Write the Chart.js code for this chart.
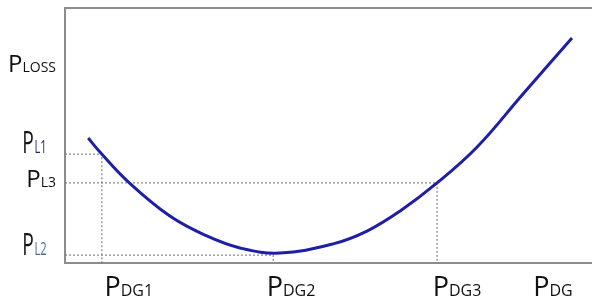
<!DOCTYPE html>
<html>
<head>
<meta charset="utf-8">
<script src="https://cdn.jsdelivr.net/npm/chart.js@4/dist/chart.umd.min.js"></script>
<style>
html,body{margin:0;padding:0;background:#fff;}
canvas{display:block;}
</style>
</head>
<body>
<canvas id="c" width="592" height="303"></canvas>
<script>
// Loss curve (arbitrary units)
const curveX = [4.4, 6.8, 12.0, 19.9, 26.9, 33.2, 40.8, 50.9, 57.3, 63.6, 70.6, 78.2, 86.9, 96.2];
const curveY = [49.0, 43.1, 31.8, 18.4, 10.6, 5.9, 3.9, 7.5, 12.5, 20.4, 31.4, 45.5, 66.3, 88.2];

// Dotted guide lines: level and the x where it meets the curve
const guideLevels = [42.7, 31.4, 3.1];
const guideX = [7.0, 70.6, 39.5];

// Axis labels (main letter + subscript) and where they sit
const yLabelMain = ['P', 'P', 'P', 'P'];
const yLabelSub = ['LOSS', 'L1', 'L3', 'L2'];
const yLabelPos = [74.9, 43.1, 29.8, 3.1];
const yLabelCondensed = [false, true, false, true];
const xLabelMain = ['P', 'P', 'P', 'P'];
const xLabelSub = ['DG1', 'DG2', 'DG3', 'DG'];
const xLabelPos = [12.1, 42.9, 74.4, 92.6];

const curve = curveX.map((x, i) => ({x, y: curveY[i]}));
const guides = guideLevels.map((lv, i) => ({
  data: [{x: 0, y: lv}, {x: guideX[i], y: lv}, {x: guideX[i], y: 0}],
  borderColor: '#6e6e6e',
  borderWidth: 1,
  borderDash: [2, 2],
  pointRadius: 0,
  tension: 0,
  clip: false
}));

const framePlugin = {
  id: 'frame',
  beforeDatasetsDraw(chart) {
    const {ctx, chartArea: a} = chart;
    ctx.save();
    ctx.strokeStyle = '#8c8c8c';
    ctx.lineWidth = 2;
    ctx.beginPath();
    ctx.moveTo(a.right, a.top);
    ctx.lineTo(a.left, a.top);
    ctx.lineTo(a.left, a.bottom);
    ctx.lineTo(a.right, a.bottom);
    ctx.stroke();
    ctx.restore();
  },
  afterDraw(chart) {
    const {ctx, chartArea: a} = chart;
    const xs = chart.scales.x, ys = chart.scales.y;
    ctx.save();
    ctx.fillStyle = '#111';
    ctx.textBaseline = 'alphabetic';
    // y labels
    yLabelMain.forEach((m, i) => {
      const base = ys.getPixelForValue(yLabelPos[i]);
      if (yLabelCondensed[i]) {
        const sx = 0.62;
        ctx.font = '31px "Open Sans"';
        const wm = ctx.measureText(m).width * sx;
        ctx.font = '18px "Open Sans"';
        const ws = ctx.measureText(yLabelSub[i]).width * sx;
        const right = a.left - 18;
        const left = right - wm - ws - 1;
        ctx.save();
        ctx.translate(left, base);
        ctx.scale(sx, 1);
        ctx.font = '31px "Open Sans"';
        ctx.fillStyle = '#151515';
        ctx.fillText(m, 0, 0);
        ctx.font = '18px "Open Sans"';
        ctx.fillStyle = i === 1 ? '#1d2f5e' : '#4d6b8f';
        ctx.fillText(yLabelSub[i], wm / sx + 1, 0);
        ctx.restore();
      } else {
        ctx.font = '24px "Open Sans"';
        const wm = ctx.measureText(m).width;
        ctx.font = '14px "Open Sans"';
        const ws = ctx.measureText(yLabelSub[i]).width;
        const right = a.left - 9;
        const left = right - wm - ws;
        ctx.font = '24px "Open Sans"';
        ctx.fillText(m, left, base);
        ctx.font = '14px "Open Sans"';
        ctx.fillText(yLabelSub[i], left + wm, base);
      }
    });
    // x labels
    xLabelMain.forEach((m, i) => {
      const cx = xs.getPixelForValue(xLabelPos[i]);
      const base = a.bottom + 33;
      ctx.font = '27px "Open Sans"';
      const wm = ctx.measureText(m).width;
      ctx.font = '16px "Open Sans"';
      const ws = ctx.measureText(xLabelSub[i]).width;
      const left = cx - (wm + ws) / 2;
      ctx.font = '27px "Open Sans"';
      ctx.fillText(m, left, base);
      ctx.font = '16px "Open Sans"';
      ctx.fillText(xLabelSub[i], left + wm, base);
    });
    ctx.restore();
  }
};

new Chart(document.getElementById('c'), {
  type: 'line',
  data: {
    datasets: [
      {
        data: curve,
        borderColor: '#1e1ea6',
        borderWidth: 3,
        pointRadius: 0,
        tension: 0.4,
        clip: false,
        order: 0
      },
      ...guides.map(g => Object.assign(g, {order: 1}))
    ]
  },
  options: {
    responsive: false,
    animation: false,
    events: [],
    layout: {padding: {left: 65, top: 8, right: 0, bottom: 40}},
    plugins: {legend: {display: false}, tooltip: {enabled: false}},
    scales: {
      x: {type: 'linear', min: 0, max: 100, display: false},
      y: {type: 'linear', min: 0, max: 100, display: false}
    }
  },
  plugins: [framePlugin]
});
</script>
</body>
</html>
